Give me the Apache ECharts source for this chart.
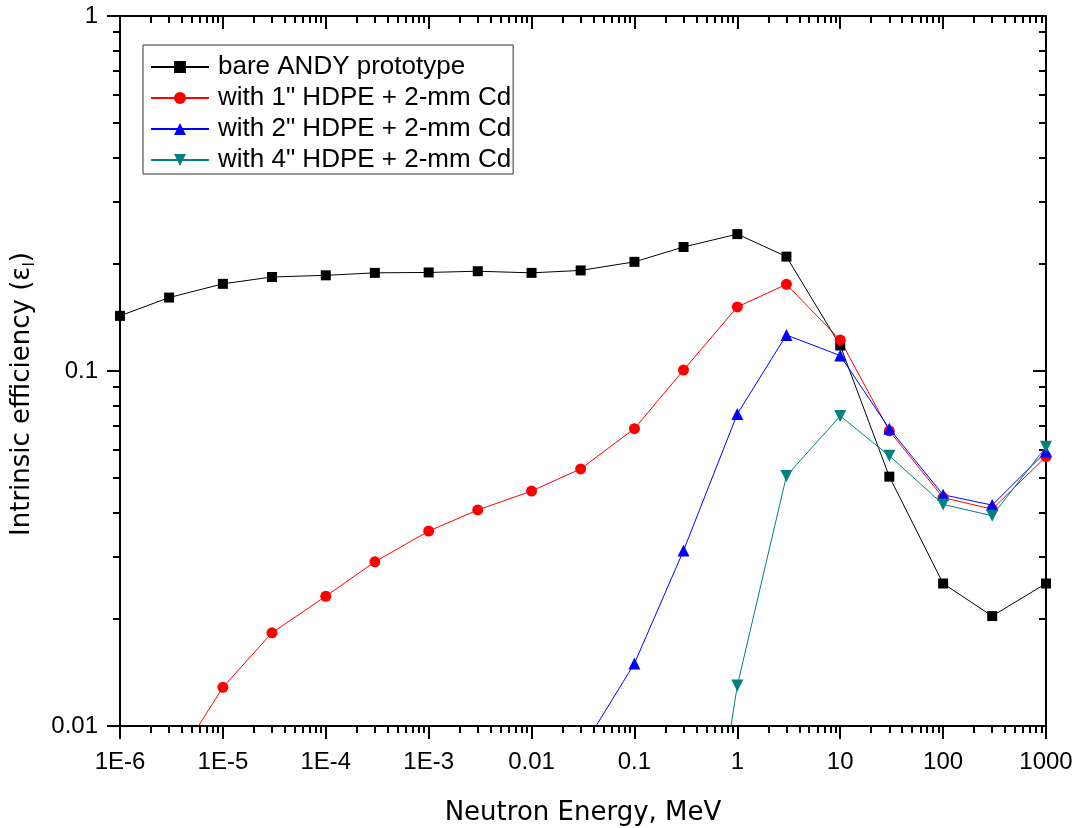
<!DOCTYPE html>
<html>
<head>
<meta charset="utf-8">
<script src="https://cdn.jsdelivr.net/npm/echarts@6/dist/echarts.min.js"></script>
<style>
html,body{margin:0;padding:0;background:#fff;}
#chart{width:1081px;height:828px;}
</style>
</head>
<body>
<div id="chart"></div>
<script>
// Neutron energy (MeV)
const energies = [1e-6, 3e-6, 1e-5, 3e-5, 1e-4, 3e-4, 1e-3, 3e-3, 0.01, 0.03, 0.1, 0.3, 1, 3, 10, 30, 100, 300, 1000];
// Intrinsic efficiency series
const bare  = [0.143, 0.161, 0.176, 0.184, 0.186, 0.189, 0.1895, 0.191, 0.189, 0.192, 0.203, 0.2235, 0.243, 0.210, 0.118, 0.0504, 0.0252, 0.0204, 0.0252];
const hdpe1 = [null, 0.0074, 0.01285, 0.0183, 0.0232, 0.029, 0.0354, 0.0406, 0.0459, 0.053, 0.0688, 0.1006, 0.1515, 0.1754, 0.1223, 0.0678, 0.044, 0.0408, 0.0574];
const hdpe2 = [null, null, null, null, null, null, null, null, null, 0.0085, 0.015, 0.0312, 0.0757, 0.1263, 0.1105, 0.0688, 0.0448, 0.0419, 0.0593];
const hdpe4 = [null, null, null, null, null, null, null, null, null, null, null, 0.0014, 0.013, 0.0506, 0.0747, 0.0577, 0.0421, 0.0391, 0.0612];
const seriesNames = ['bare ANDY prototype', 'with 1" HDPE + 2-mm Cd', 'with 2" HDPE + 2-mm Cd', 'with 4" HDPE + 2-mm Cd'];

// Tick values and labels
const xMajor = [1e-6, 1e-5, 1e-4, 1e-3, 0.01, 0.1, 1, 10, 100, 1000];
const xTickLabels = ['1E-6', '1E-5', '1E-4', '1E-3', '0.01', '0.1', '1', '10', '100', '1000'];
const yMajor = [0.01, 0.1, 1];
const yTickLabels = ['0.01', '0.1', '1'];
const minorMult = [2, 3, 4, 5, 6, 7, 8, 9];

function minorOf(majors) {
  const out = [];
  for (let i = 0; i < majors.length - 1; i++) {
    for (const m of minorMult) out.push(+(majors[i] * m).toPrecision(6));
  }
  return out;
}
const xMinor = minorOf(xMajor);
const yMinor = minorOf(yMajor);

function pairs(ys) {
  const d = [];
  ys.forEach((y, i) => { if (y !== null) d.push([energies[i], y]); });
  return d;
}

const chart = echarts.init(document.getElementById('chart'), null, {renderer: 'canvas'});
const AX = '#000';
const lineW = 2;

function xAxisDef(pos, major, withLabels, inside, showLine) {
  return {
    type: 'log', logBase: 10, min: 1e-6, max: 1000, position: pos,
    gridIndex: 0,
    axisLine: {show: showLine, onZero: false, lineStyle: {color: AX, width: lineW}},
    axisTick: {show: true, inside: inside, length: major ? 13 : 7, customValues: major ? xMajor : xMinor, lineStyle: {color: AX, width: lineW}},
    axisLabel: withLabels ? {
      show: true, customValues: xMajor, margin: 24,
      fontFamily: 'Liberation Sans, Arial, sans-serif', fontSize: 24, color: '#000',
      formatter: v => xTickLabels[Math.round(Math.log10(v)) + 6]
    } : {show: false},
    minorTick: {show: false},
    splitLine: {show: false}
  };
}
function yAxisDef(pos, major, withLabels, inside, showLine) {
  return {
    type: 'log', logBase: 10, min: 0.01, max: 1, position: pos,
    gridIndex: 0,
    axisLine: {show: showLine, onZero: false, lineStyle: {color: AX, width: lineW}},
    axisTick: {show: true, inside: inside, length: major ? 13 : 7, customValues: major ? yMajor : yMinor, lineStyle: {color: AX, width: lineW}},
    axisLabel: withLabels ? {
      show: true, customValues: yMajor, margin: 22,
      fontFamily: 'Liberation Sans, Arial, sans-serif', fontSize: 24, color: '#000',
      formatter: v => yTickLabels[Math.round(Math.log10(v)) + 2]
    } : {show: false},
    minorTick: {show: false},
    splitLine: {show: false}
  };
}

const xAxes = [
  xAxisDef('bottom', true, true, false, true),
  xAxisDef('bottom', false, false, false, false),
  xAxisDef('top', true, false, true, true),
  xAxisDef('top', false, false, true, false)
];
xAxes[0].name = 'Neutron Energy, MeV';
xAxes[0].nameLocation = 'middle';
xAxes[0].nameGap = 74;
xAxes[0].nameTextStyle = {fontFamily: 'DejaVu Sans', fontSize: 26, color: '#000'};

const yAxes = [
  yAxisDef('left', true, true, false, true),
  yAxisDef('left', false, false, false, false),
  yAxisDef('right', true, false, true, true),
  yAxisDef('right', false, false, true, false)
];
yAxes[0].name = '{a|Intrinsic efficiency (ε}{s|I}{a|)}';
yAxes[0].nameLocation = 'middle';
yAxes[0].nameRotate = 90;
yAxes[0].nameGap = 82;
yAxes[0].nameTextStyle = {
  color: '#000',
  padding: [0, 46, 0, 0],
  rich: {
    a: {fontFamily: 'DejaVu Sans', fontSize: 26, color: '#000', lineHeight: 32, verticalAlign: 'middle'},
    s: {fontFamily: 'DejaVu Sans', fontSize: 15, color: '#000', lineHeight: 18, verticalAlign: 'bottom'}
  }
};

function mkSeries(name, ys, color, symbol, size, rotate) {
  return {
    name: name, type: 'line', xAxisIndex: 0, yAxisIndex: 0,
    data: pairs(ys),
    symbol: symbol, symbolSize: size, symbolRotate: rotate || 0,
    showAllSymbol: true,
    lineStyle: {color: color, width: 1},
    itemStyle: {color: color, borderWidth: 0},
    clip: true,
    animation: false,
    z: 3
  };
}

const option = {
  animation: false,
  backgroundColor: '#fff',
  grid: {left: 120, right: 35, top: 16, bottom: 102, containLabel: false, outerBoundsMode: 'none'},
  xAxis: xAxes,
  yAxis: yAxes,
  legend: {
    show: true, orient: 'vertical', left: 143, top: 45,
    padding: [9, 2, 1, 7],
    itemWidth: 58, itemHeight: 15, itemGap: 5,
    borderColor: '#333', borderWidth: 1, backgroundColor: '#fff',
    selectedMode: false,
    textStyle: {fontFamily: 'Liberation Sans, Arial, sans-serif', fontSize: 26, color: '#000', padding: [0, 0, 0, 4]},
    data: seriesNames
  },
  series: [
    mkSeries(seriesNames[0], bare, '#000000', 'rect', 10),
    mkSeries(seriesNames[1], hdpe1, '#ff0000', 'circle', 11),
    mkSeries(seriesNames[2], hdpe2, '#0000ff', 'triangle', 12),
    mkSeries(seriesNames[3], hdpe4, '#008080', 'triangle', 12, 180)
  ]
};
chart.setOption(option);
</script>
</body>
</html>
